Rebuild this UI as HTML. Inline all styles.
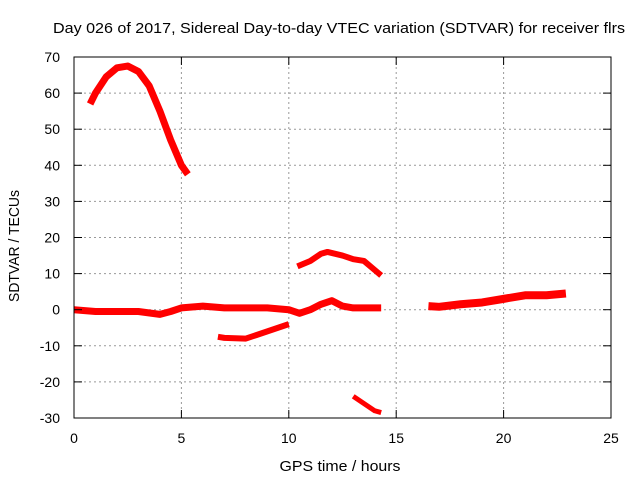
<!DOCTYPE html>
<html><head><meta charset="utf-8"><style>
body{margin:0;background:#fff;}
svg text{font-family:"Liberation Sans",sans-serif;font-size:14px;fill:#000;}
</style></head><body>
<svg id="chart" width="640" height="480">
<text x="339" y="33" text-anchor="middle" textLength="572" lengthAdjust="spacingAndGlyphs" style="font-size:15px">Day 026 of 2017, Sidereal Day-to-day VTEC variation (SDTVAR) for receiver flrs</text>
<text x="340" y="471" text-anchor="middle" textLength="121" lengthAdjust="spacingAndGlyphs" style="font-size:15px">GPS time / hours</text>
<text transform="translate(19,246) rotate(-90)" text-anchor="middle" textLength="112" lengthAdjust="spacingAndGlyphs" style="font-size:15px">SDTVAR / TECUs</text>
<g id="grid"></g><g id="series"></g>
<rect x="74" y="57" width="537" height="361" fill="none" stroke="#000" stroke-width="1"/>
<g id="ticks"></g>
</svg>
<script>
const xTicks=[0,5,10,15,20,25];
const yTicks=[-30,-20,-10,0,10,20,30,40,50,60,70];
const s1x=[0.75,1,1.5,2,2.5,3,3.5,4,4.5,5,5.3];
const s1y=[57,60,64.5,67,67.5,66,62,55,47,40,37.5];
const s2x=[0,1,2,3,4,4.5,5,6,7,8,9,10,10.5,11,11.5,12,12.5,13,14,14.3];
const s2y=[0,-0.5,-0.5,-0.5,-1.3,-0.5,0.5,1,0.5,0.5,0.5,0,-1,0,1.5,2.5,1,0.5,0.5,0.5];
const s3x=[6.7,7,8,8.5,9,9.5,10];
const s3y=[-7.5,-7.8,-8,-7,-6,-5,-4];
const s4x=[10.4,11,11.5,11.8,12.5,13,13.5,14,14.3];
const s4y=[12,13.5,15.5,16,15,14,13.5,11,9.5];
const s5x=[13,13.5,14,14.3];
const s5y=[-24,-26,-28,-28.5];
const s6x=[16.5,17,18,19,20,21,22,22.9];
const s6y=[1,0.8,1.5,2,3,4,4,4.5];
const X=v=>74+v*537/25, Y=v=>418-(v+30)*361/100;
const NS='http://www.w3.org/2000/svg';
const grid=document.getElementById('grid'),ticks=document.getElementById('ticks'),ser=document.getElementById('series');
function mk(p,tag,a){const e=document.createElementNS(NS,tag);for(const k in a)e.setAttribute(k,a[k]);p.appendChild(e);return e;}
xTicks.forEach(t=>{const x=X(t);
 if(t>0&&t<25){const g=mk(grid,'line',{x1:x,x2:x,y1:57,y2:418,stroke:'#999','stroke-dasharray':'2,3'});
 
 }
 mk(ticks,'line',{x1:x,x2:x,y1:418,y2:410,stroke:'#000'});mk(ticks,'line',{x1:x,x2:x,y1:57,y2:65,stroke:'#000'});
 const l=mk(ticks,'text',{x:x,y:443,'text-anchor':'middle'});l.textContent=t;
 
 });
yTicks.forEach(t=>{const y=Y(t);
 if(t>-30&&t<70){const g=mk(grid,'line',{x1:74,x2:611,y1:y,y2:y,stroke:'#999','stroke-dasharray':'2,3'});
 
 }
 mk(ticks,'line',{x1:74,x2:82,y1:y,y2:y,stroke:'#000'});mk(ticks,'line',{x1:611,x2:603,y1:y,y2:y,stroke:'#000'});
 const l=mk(ticks,'text',{x:60,y:y+5,'text-anchor':'end'});l.textContent=t;
 
 });
[[s1x,s1y,7],[s2x,s2y,7],[s3x,s3y,6],[s4x,s4y,6],[s5x,s5y,5],[s6x,s6y,8]].forEach((s,i)=>{
 const pts=s[0].map((v,j)=>X(v)+','+Y(s[1][j])).join(' ');
 const p=mk(ser,'polyline',{points:pts,fill:'none',stroke:'#f00','stroke-width':s[2],'stroke-linejoin':'round'});
 
 });
</script>
</body></html>
